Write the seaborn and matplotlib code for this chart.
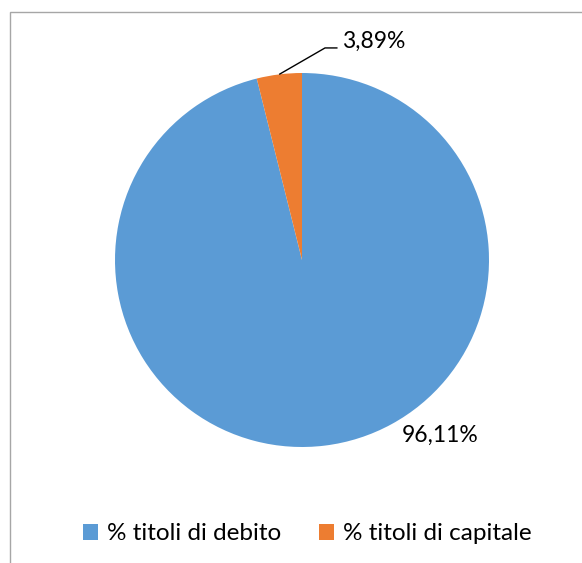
import numpy as np
import matplotlib
matplotlib.use("Agg")
import matplotlib.pyplot as plt
from matplotlib.patches import Rectangle, Patch
import seaborn as sns

categories = ['% titoli di debito', '% titoli di capitale']
shares = [96.11, 3.89]
labels = ['96,11%', '3,89%']
colors = ['#5B9BD5', '#ED7D31']

sns.set_style('white')
plt.rcParams['font.family'] = ['Lato', 'DejaVu Sans']
plt.rcParams['text.color'] = 'black'

W, H = 582, 563
fig = plt.figure(figsize=(W / 100, H / 100), dpi=100)

# grey chart border (left and top visible, runs off right/bottom)
fig.patches.append(Rectangle((10 / W, -0.05), 1.2, (H - 12) / H + 0.05,
                             transform=fig.transFigure, fill=False,
                             edgecolor='#A6A6A6', linewidth=1))

cx, cy, r = 302, 260, 187
ax = fig.add_axes([(cx - r) / W, (H - cy - r) / H, 2 * r / W, 2 * r / H])
wedges, _ = ax.pie(shares, colors=colors, startangle=90, counterclock=False,
                   wedgeprops=dict(linewidth=0))
ax.set_xlim(-1, 1)
ax.set_ylim(-1, 1)
ax.set_aspect('auto')
ax.axis('off')

# label for the big slice
ax.text(0.535, -0.973, labels[0], ha='left', va='baseline', fontsize=16.5)

# leader line + label for the small slice
w = wedges[1]
mid = np.deg2rad((w.theta1 + w.theta2) / 2)
px, py = np.cos(mid), np.sin(mid)
ax.plot([px, 0.123, 0.19], [py, 1.134, 1.134], color='black', lw=1,
        clip_on=False, solid_capstyle='butt')
ax.text(0.214, 1.134, labels[1], ha='left', va='baseline', fontsize=16.5)

handles = [Patch(facecolor=c, edgecolor='none') for c in colors]
fig.legend(handles, categories, loc='center', bbox_to_anchor=(307 / W, 29 / H),
           ncol=2, frameon=False, fontsize=17.5, handlelength=0.62,
           handleheight=0.62, handletextpad=0.37, columnspacing=1.55)

fig.savefig('out.png', dpi=100)
